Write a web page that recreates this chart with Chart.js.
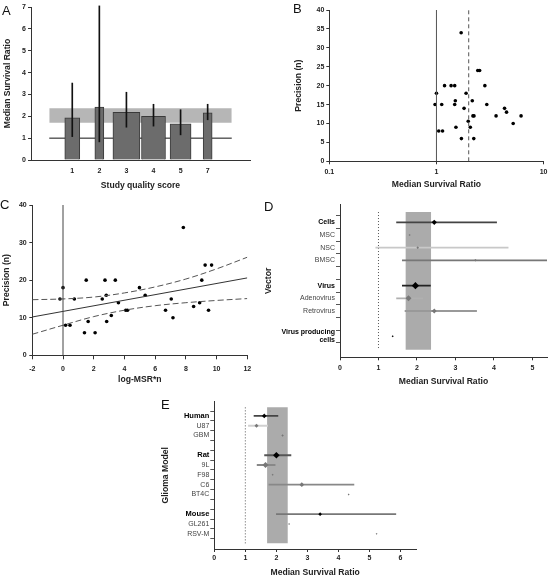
<!DOCTYPE html>
<html>
<head>
<meta charset="utf-8">
<script src="https://cdn.jsdelivr.net/npm/chart.js@4.4.0/dist/chart.umd.min.js"></script>
<style>
  body { margin: 0; background: #fff; }
  #fig { position: relative; width: 551px; height: 578px; overflow: hidden; background: #fff; }
  canvas { position: absolute; }
  .tag { position: absolute; font: 13px 'Liberation Sans', Arial, sans-serif; line-height: 1; color: #111; }
</style>
</head>
<body>
<div id="fig">
  <canvas id="chartA" width="275" height="195" style="left:0;top:0"></canvas>
  <canvas id="chartB" width="276" height="195" style="left:275px;top:0"></canvas>
  <canvas id="chartC" width="275" height="200" style="left:0;top:195px"></canvas>
  <canvas id="chartD" width="293" height="200" style="left:258px;top:195px"></canvas>
  <canvas id="chartE" width="260" height="188" style="left:160px;top:390px"></canvas>
  <div class="tag" style="left:2px;top:4px">A</div>
  <div class="tag" style="left:293px;top:2px">B</div>
  <div class="tag" style="left:0;top:198px">C</div>
  <div class="tag" style="left:264px;top:200px">D</div>
  <div class="tag" style="left:161px;top:398px">E</div>
</div>
<script>
// ---- data ----
// A: median survival ratio by study quality score
const qualityScores = ['1', '2', '3', '4', '5', '7'];
const msrByScore = [1.93, 2.42, 2.18, 2.0, 1.65, 2.16];
const msrLowByScore = [1.07, 0.83, 1.5, 1.55, 1.15, 1.84];
const msrHighByScore = [3.52, 7.05, 3.1, 2.55, 2.3, 2.55];
const studiesByScore = [5, 3, 9, 8, 7, 3];

// pooled estimate and its confidence interval
const pooledMSR = 2.0;
const pooledCI = [1.70, 2.37];

// B / C: individual studies
const studyMSR = [1.70, 2.43, 2.53, 1.19, 1.37, 1.48, 2.83, 1.00, 1.89, 1.50,
                  2.16, 0.97, 1.12, 1.48, 2.95, 1.81, 4.32, 4.51, 2.19, 2.24,
                  3.60, 6.16, 5.20, 1.98, 1.52, 2.07, 1.05, 1.14, 1.71, 2.23];
const studyPrecision = [34, 24, 24, 20, 20, 20, 20, 18, 18, 16,
                        16, 15, 15, 15, 15, 14, 14, 13, 12, 12,
                        12, 12, 10, 10.6, 9, 9, 8, 8, 6, 6];
const msrTicks = [0.1, 1, 10];

// C: regression line and confidence band
const fitX = [-2, 12];
const fitY = [10.2, 20.6];
const bandX = [-2, 0, 2, 4, 6, 8, 10, 12];
const bandUpper = [14.8, 15.0, 15.5, 16.6, 18.2, 20.3, 23.0, 26.1];
const bandLower = [5.6, 8.0, 10.3, 12.0, 13.2, 14.0, 14.6, 15.1];

// D: vector
const vectorRows = ['Cells', 'MSC', 'NSC', 'BMSC', '', 'Virus', 'Adenovirus', 'Retrovirus', '', ['Virus producing', 'cells']];
const vectorIsGroup = [true, false, false, false, false, true, false, false, false, true];
const vectorMSR = [2.45, 1.81, 2.02, 3.52, null, 1.96, 1.78, 2.45, null, 1.37];
const vectorLow = [1.47, null, 0.93, 1.62, null, 1.62, 1.47, 1.69, null, null];
const vectorHigh = [4.07, null, 4.37, 5.9, null, 2.35, 2.15, 3.55, null, null];

// E: glioma model
const modelRows = ['Human', 'U87', 'GBM', '', 'Rat', '9L', 'F98', 'C6', 'BT4C', '', 'Mouse', 'GL261', 'RSV-M'];
const modelIsGroup = [true, false, false, false, true, false, false, false, false, false, true, false, false];
const modelMSR = [1.61, 1.36, 2.2, null, 2.0, 1.65, 1.88, 2.82, 4.33, null, 3.41, 2.41, 5.23];
const modelLow = [1.28, 1.1, null, null, 1.62, 1.38, null, 1.76, null, null, 2.0, null, null];
const modelHigh = [2.05, 1.72, null, null, 2.47, 1.96, null, 4.5, null, null, 5.85, null, null];

// ---- styles ----
const markerD = [2.6, 1, 1.3, 1.3, 0, 3.6, 3, 2.4, 0, 1];
const ciColorD = ['#444', '#444', '#c8c8c8', '#777', '', '#222', '#b0b0b0', '#999', '', '#444'];
const markerE = [2.3, 2, 1.2, 0, 3.3, 3, 1, 2.4, 0.9, 0, 1.8, 0.9, 0.9];
const ciColorE = ['#444', '#d0d0d0', '#888', '', '#555', '#888', '#888', '#888', '#888', '', '#777', '#888', '#888'];

Chart.defaults.font.family = "'Liberation Sans', Arial, sans-serif";
Chart.defaults.color = '#222';
Chart.defaults.animation = false;
Chart.defaults.plugins.legend.display = false;
Chart.defaults.plugins.tooltip.enabled = false;

const tickFont = { size: 7, weight: 'bold' };
const titleFont = { size: 8.6, weight: 'bold' };
const axisColor = '#333';

function pts(xs, ys) {
    return xs.map((x, i) => ({ x: x, y: ys[i] }));
}

// ---- A ----
const xMinA = -0.85, xMaxA = 5.89;
new Chart(document.getElementById('chartA'), {
    type: 'scatter',
    data: {
        datasets: [
            {
                type: 'line', order: 10,
                data: [{ x: xMinA, y: pooledCI[1] }, { x: xMaxA, y: pooledCI[1] }],
                fill: { value: pooledCI[0] }, backgroundColor: '#b6b6b6',
                borderWidth: 0, pointRadius: 0
            },
            {
                type: 'line', order: 9,
                data: [{ x: xMinA, y: 1 }, { x: xMaxA, y: 1 }],
                borderColor: '#111', borderWidth: 1, pointRadius: 0
            },
            ...qualityScores.map((s, i) => ({
                type: 'bar', order: 5, grouped: false,
                data: [{ x: i, y: msrByScore[i] }],
                barThickness: studiesByScore[i] * 3,
                backgroundColor: '#6c6c6c', borderColor: '#3a3a3a', borderWidth: 1
            })),
            {
                type: 'bar', order: 1, grouped: false, clip: false,
                data: qualityScores.map((s, i) => ({ x: i, y: [msrLowByScore[i], msrHighByScore[i]] })),
                barThickness: 1, backgroundColor: '#111'
            }
        ]
    },
    options: {
        responsive: false,
        devicePixelRatio: 1,
        layout: { padding: { top: 7, right: 25, left: 0, bottom: 0 } },
        scales: {
            x: {
                type: 'linear', min: xMinA, max: xMaxA,
                afterFit: s => { s.height = 35; },
                afterBuildTicks: s => { s.ticks = qualityScores.map((q, i) => ({ value: i })); },
                ticks: { callback: v => qualityScores[v], font: tickFont, padding: 7, autoSkip: false, maxRotation: 0 },
                grid: { display: false, drawTicks: false },
                border: { color: axisColor },
                title: { display: true, text: 'Study quality score', font: titleFont, padding: { top: 0, bottom: 4.1 } }
            },
            y: {
                min: 0, max: 7,
                afterFit: s => { s.width = 31; },
                ticks: { stepSize: 1, font: tickFont, padding: 2 },
                grid: { drawOnChartArea: false, tickLength: 3, tickColor: axisColor },
                border: { color: axisColor },
                title: { display: true, text: 'Median Survival Ratio', font: titleFont, padding: { top: 2.1, bottom: 0 } }
            }
        }
    }
});

// ---- B ----
new Chart(document.getElementById('chartB'), {
    type: 'scatter',
    data: {
        datasets: [
            {
                type: 'line', data: [{ x: 1, y: 0 }, { x: 1, y: 40 }],
                borderColor: '#555', borderWidth: 1, pointRadius: 0
            },
            {
                type: 'line', data: [{ x: pooledMSR, y: 0 }, { x: pooledMSR, y: 40 }],
                borderColor: '#555', borderWidth: 1, borderDash: [4, 3], pointRadius: 0
            },
            {
                data: pts(studyMSR, studyPrecision),
                pointRadius: 1.8, pointBackgroundColor: '#000', backgroundColor: '#000', pointBorderWidth: 0
            }
        ]
    },
    options: {
        responsive: false,
        devicePixelRatio: 1,
        layout: { padding: { top: 10, right: 4.3, left: 0, bottom: 0 } },
        scales: {
            x: {
                type: 'logarithmic', min: 0.1, max: 10,
                afterFit: s => { s.height = 33.7; },
                afterBuildTicks: s => { s.ticks = msrTicks.map(v => ({ value: v })); },
                ticks: { callback: v => String(v), font: tickFont, padding: 3.5, autoSkip: false, maxRotation: 0 },
                grid: { drawOnChartArea: false, tickLength: 3, tickColor: axisColor },
                border: { color: axisColor },
                title: { display: true, text: 'Median Survival Ratio', font: titleFont, padding: { top: 0, bottom: 5.5 } }
            },
            y: {
                min: 0, max: 40,
                afterFit: s => { s.width = 54.3; },
                ticks: { stepSize: 5, font: tickFont, padding: 2 },
                grid: { drawOnChartArea: false, tickLength: 3, tickColor: axisColor },
                border: { color: axisColor },
                title: { display: true, text: 'Precision (n)', font: titleFont, padding: { top: 18.1, bottom: 0 } }
            }
        }
    }
});

// ---- C ----
const logMsrN = studyMSR.map((m, i) => Math.log10(m) * studyPrecision[i]);
new Chart(document.getElementById('chartC'), {
    type: 'scatter',
    data: {
        datasets: [
            {
                type: 'line', data: [{ x: 0, y: 0 }, { x: 0, y: 40 }],
                borderColor: '#444', borderWidth: 1, pointRadius: 0
            },
            {
                type: 'line', data: pts(fitX, fitY),
                borderColor: '#333', borderWidth: 1, pointRadius: 0
            },
            {
                type: 'line', data: pts(bandX, bandUpper), tension: 0.35,
                borderColor: '#555', borderWidth: 1, borderDash: [6, 3], pointRadius: 0
            },
            {
                type: 'line', data: pts(bandX, bandLower), tension: 0.35,
                borderColor: '#555', borderWidth: 1, borderDash: [6, 3], pointRadius: 0
            },
            {
                data: pts(logMsrN, studyPrecision),
                pointRadius: 1.8, pointBackgroundColor: '#000', backgroundColor: '#000', pointBorderWidth: 0
            }
        ]
    },
    options: {
        responsive: false,
        devicePixelRatio: 1,
        layout: { padding: { top: 10, right: 27.7, left: 0, bottom: 0 } },
        scales: {
            x: {
                min: -2, max: 12,
                afterFit: s => { s.height = 39.7; },
                ticks: { stepSize: 2, font: tickFont, padding: 5.5, maxRotation: 0 },
                grid: { drawOnChartArea: false, tickLength: 4, tickColor: axisColor },
                border: { color: axisColor },
                title: { display: true, text: 'log-MSR*n', font: titleFont, padding: { top: 0, bottom: 9.8 } }
            },
            y: {
                min: 0, max: 40,
                afterFit: s => { s.width = 32.3; },
                ticks: { stepSize: 10, font: tickFont, padding: 2.6 },
                grid: { drawOnChartArea: false, tickLength: 3, tickColor: axisColor },
                border: { color: axisColor },
                title: { display: true, text: 'Precision (n)', font: titleFont, padding: { top: 1.5, bottom: 0 } }
            }
        }
    }
});

// ---- D / E forest plots ----
function forest(id, rows, isGroup, msr, lo, hi, radii, ciColors, cfg) {
    const idx = rows.map((r, i) => i).filter(i => msr[i] != null);
    const ciIdx = idx.filter(i => lo[i] != null);
    return new Chart(document.getElementById(id), {
        type: 'scatter',
        data: {
            datasets: [
                {
                    type: 'line', order: 10,
                    data: [{ x: pooledCI[0], y: cfg.yMax }, { x: pooledCI[1], y: cfg.yMax }],
                    fill: { value: cfg.yMin }, backgroundColor: '#ababab',
                    borderWidth: 0, pointRadius: 0
                },
                {
                    type: 'line', order: 9,
                    data: [{ x: 1, y: cfg.yMin }, { x: 1, y: cfg.yMax }],
                    borderColor: '#555', borderWidth: 1, borderDash: [1, 2], pointRadius: 0
                },
                {
                    type: 'bar', indexAxis: 'y', order: 5, grouped: false,
                    data: ciIdx.map(i => ({ x: [lo[i], hi[i]], y: i })),
                    barThickness: 1.2,
                    backgroundColor: ciIdx.map(i => ciColors[i])
                },
                {
                    order: 1,
                    data: idx.map(i => ({ x: msr[i], y: i })),
                    pointStyle: 'rectRot',
                    pointRadius: idx.map(i => radii[i]),
                    pointBackgroundColor: idx.map(i => isGroup[i] ? '#000' : '#777'),
                    backgroundColor: idx.map(i => isGroup[i] ? '#000' : '#777'),
                    pointBorderWidth: 0
                }
            ]
        },
        options: {
            responsive: false,
            devicePixelRatio: 1,
            layout: { padding: { top: cfg.padTop, right: cfg.padRight, left: 0, bottom: 0 } },
            scales: {
                x: {
                    min: 0, max: cfg.xMax,
                    afterFit: s => { s.height = cfg.xHeight; },
                    ticks: { stepSize: 1, includeBounds: false, font: tickFont, padding: cfg.xTickPad, maxRotation: 0 },
                    grid: { drawOnChartArea: false, tickLength: 3, tickColor: axisColor },
                    border: { color: axisColor },
                    title: { display: true, text: 'Median Survival Ratio', font: titleFont, padding: { top: 0, bottom: cfg.xTitlePad } }
                },
                y: {
                    reverse: true, min: cfg.yMin, max: cfg.yMax,
                    afterFit: s => { s.width = cfg.yWidth; },
                    afterBuildTicks: s => { s.ticks = rows.map((r, i) => ({ value: i })); },
                    ticks: {
                        autoSkip: false,
                        padding: 1,
                        callback: v => rows[v],
                        font: c => ({ size: isGroup[c.index] ? cfg.groupSize : 7, weight: isGroup[c.index] ? 'bold' : 'normal' }),
                        color: c => isGroup[c.index] ? '#000' : '#444'
                    },
                    grid: { drawOnChartArea: false, tickLength: 4, tickColor: '#555' },
                    border: { color: axisColor },
                    title: { display: true, text: cfg.yTitle, font: titleFont, padding: { top: cfg.yTitlePad, bottom: 0 } }
                }
            }
        }
    });
}

forest('chartD', vectorRows, vectorIsGroup, vectorMSR, vectorLow, vectorHigh, markerD, ciColorD, {
    yMin: -0.81, yMax: 10.05, xMax: 5.38,
    yWidth: 82, xHeight: 37.7, padTop: 6.7, padRight: 4,
    xTickPad: 3.5, xTitlePad: 8.1, yTitle: 'Vector', yTitlePad: 5.5, groupSize: 7
});

forest('chartE', modelRows, modelIsGroup, modelMSR, modelLow, modelHigh, markerE, ciColorE, {
    yMin: -0.87, yMax: 12.97, xMax: 6.5,
    yWidth: 54.3, xHeight: 29, padTop: 11.7, padRight: 3.7,
    xTickPad: 2, xTitlePad: 0, yTitle: 'Glioma Model', yTitlePad: 0, groupSize: 7.5
});
</script>
</body>
</html>
